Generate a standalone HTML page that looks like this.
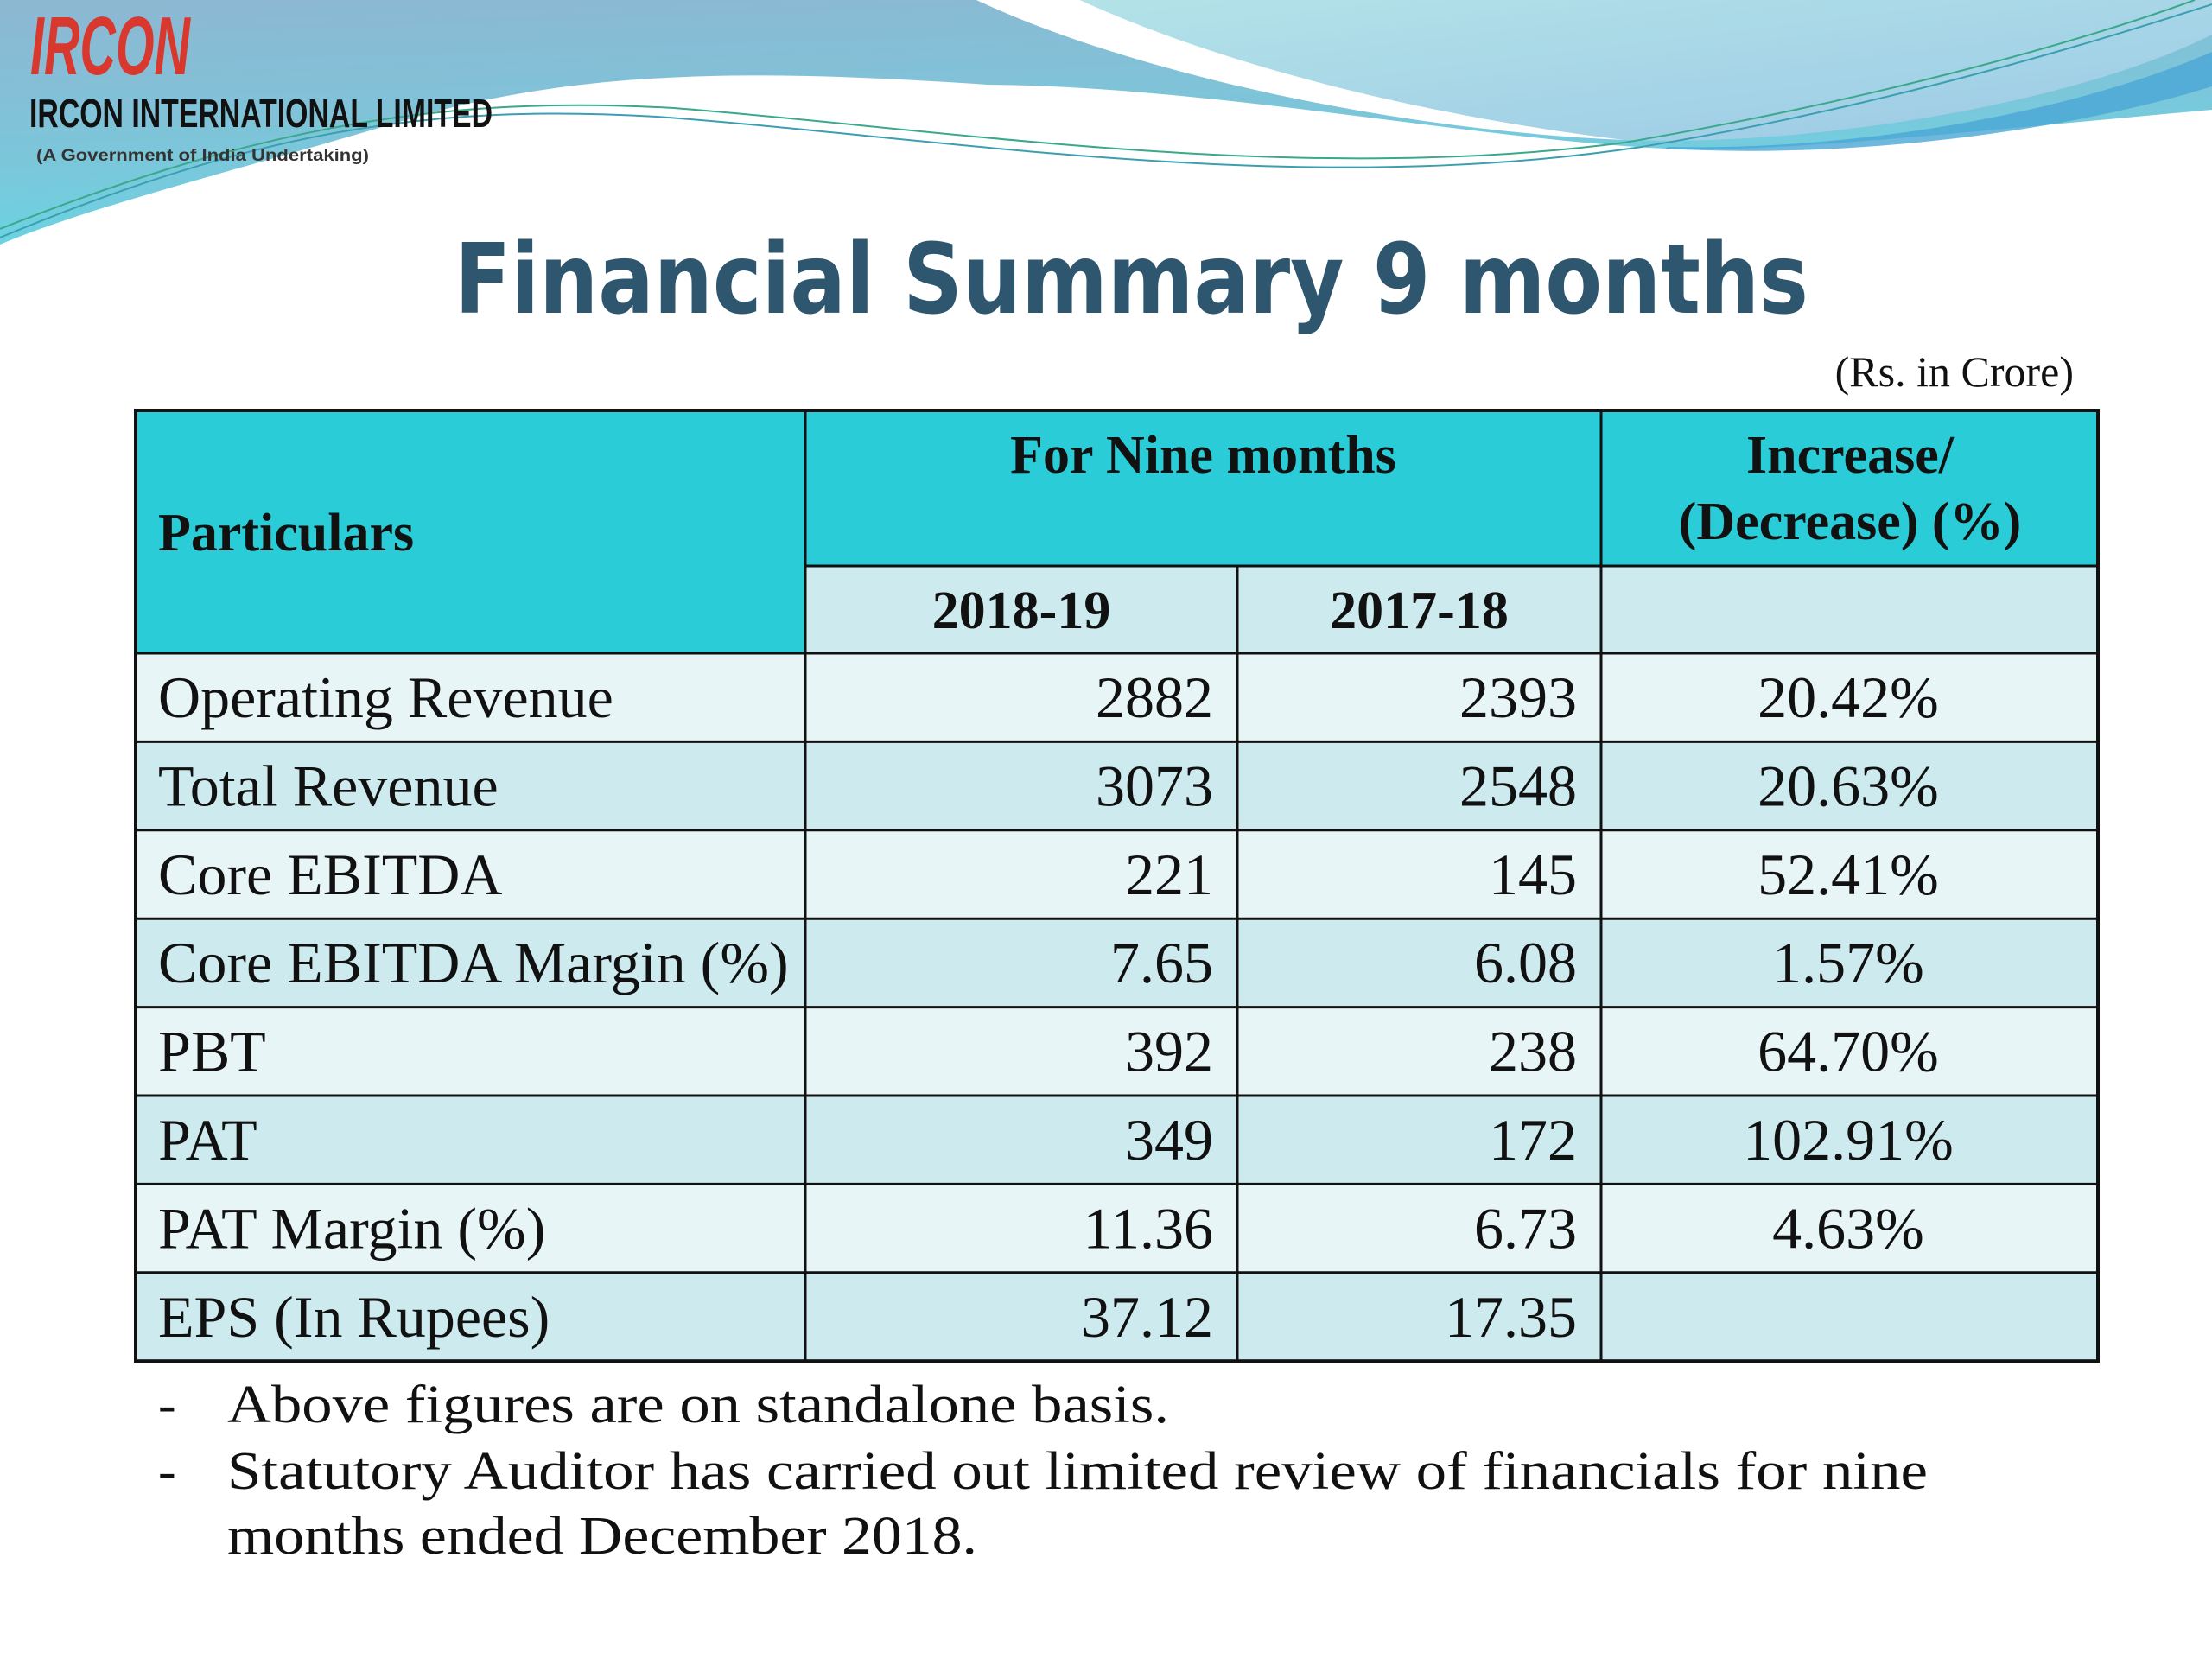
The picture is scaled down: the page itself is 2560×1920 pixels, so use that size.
<!DOCTYPE html>
<html><head><meta charset="utf-8"><title>Financial Summary 9 months</title>
<style>
html,body{margin:0;padding:0;background:#fff;}
body{width:2560px;height:1920px;overflow:hidden;position:relative;}
svg{position:absolute;left:0;top:0;}
</style></head>
<body>
<svg id="s" width="2560" height="1920" viewBox="0 0 2560 1920" xmlns="http://www.w3.org/2000/svg">
<defs>
<linearGradient id="gBlue" x1="0" y1="0" x2="0.3" y2="1">
<stop offset="0" stop-color="#8db7d2"/><stop offset="0.6" stop-color="#7cc6da"/><stop offset="1" stop-color="#66d6e3"/>
</linearGradient>
<linearGradient id="gRight" x1="0" y1="0" x2="1" y2="1">
<stop offset="0" stop-color="#b3e3e8"/><stop offset="1" stop-color="#9cc9e6"/>
</linearGradient>
</defs>
<g>
<path d="M0,0 H2560 V127 C2300,150 2050,178 1927,172 C1700,160 1400,100 1143,98 C900,82 700,78 500,130 C300,190 100,240 0,283 Z" fill="url(#gBlue)"/>
<path d="M1250,0 H2560 V40 C2400,120 2100,170 1880,162 C1600,130 1380,60 1250,0 Z" fill="url(#gRight)"/>
<path d="M1130,0 C1300,80 1600,150 1880,162 C1600,128 1380,60 1250,0 Z" fill="#ffffff"/>
<path d="M2560,60 C2400,130 2150,175 1930,170 L1927,172 C2150,185 2400,150 2560,100 Z" fill="#4aa6d6" opacity="0.8"/>
<path d="M0,275 C300,150 500,120 760,135 C1100,160 1500,230 1900,170 C2200,120 2450,40 2560,5" fill="none" stroke="#3a9fb0" stroke-width="2"/>
<path d="M0,265 C300,145 520,110 780,125 C1100,150 1500,215 1880,165 C2200,110 2430,40 2540,0" fill="none" stroke="#3aa88a" stroke-width="2"/>
</g>
<g>
<text x="35" y="86" font-family="Liberation Sans Narrow, Liberation Sans, sans-serif" font-weight="bold" font-style="italic" font-size="96" fill="#d9382e" textLength="185" lengthAdjust="spacingAndGlyphs">IRCON</text>
<text x="34" y="147" font-family="Liberation Sans Narrow, Liberation Sans, sans-serif" font-weight="bold" font-size="46" fill="#111" textLength="536" lengthAdjust="spacingAndGlyphs">IRCON INTERNATIONAL LIMITED</text>
<text x="42" y="186" font-family="Liberation Sans, sans-serif" font-weight="bold" font-size="19" fill="#333" textLength="385" lengthAdjust="spacingAndGlyphs">(A Government of India Undertaking)</text>
</g>
<text x="526" y="362" font-family="DejaVu Sans, Liberation Sans, sans-serif" font-weight="bold" font-size="112" fill="#2f566f" textLength="1567" lengthAdjust="spacingAndGlyphs">Financial Summary 9 months</text>
<text x="2400" y="447" text-anchor="end" font-family="Liberation Serif, serif" font-size="50" fill="#111">(Rs. in Crore)</text>
<g id="tbl"></g>
<g>
<text x="183" y="1646" font-family="Liberation Serif, serif" font-size="62" fill="#111">-</text>
<text x="263" y="1646" font-family="Liberation Serif, serif" font-size="62" fill="#111" textLength="1090" lengthAdjust="spacingAndGlyphs">Above figures are on standalone basis.</text>
<text x="183" y="1723" font-family="Liberation Serif, serif" font-size="62" fill="#111">-</text>
<text x="263" y="1723" font-family="Liberation Serif, serif" font-size="62" fill="#111" textLength="1968" lengthAdjust="spacingAndGlyphs">Statutory Auditor has carried out limited review of financials for nine</text>
<text x="263" y="1798" font-family="Liberation Serif, serif" font-size="62" fill="#111" textLength="868" lengthAdjust="spacingAndGlyphs">months ended December 2018.</text>
</g>
</svg>
<script>
const particulars = ["Operating Revenue","Total Revenue","Core EBITDA","Core EBITDA Margin (%)","PBT","PAT","PAT Margin (%)","EPS (In Rupees)"];
const fy2019 = ["2882","3073","221","7.65","392","349","11.36","37.12"];
const fy2018 = ["2393","2548","145","6.08","238","172","6.73","17.35"];
const change = ["20.42%","20.63%","52.41%","1.57%","64.70%","102.91%","4.63%",""];

const NS = "http://www.w3.org/2000/svg";
const g = document.getElementById('tbl');
const X0 = 157, X1 = 932, X2 = 1432, X3 = 1853, X4 = 2428;
const T = 475, SUB = 655, HB = 756, RH = 102.4;
function mk(tag, attrs, parent){ const e = document.createElementNS(NS, tag); for (const k in attrs) e.setAttribute(k, attrs[k]); (parent||g).appendChild(e); return e; }
function txt(x, y, s, anchor, bold, size){ const t = mk('text', {x:x, y:y, 'text-anchor':anchor, 'font-family':'Liberation Serif, serif', 'font-size':size, 'font-weight':bold?'bold':'normal', fill:'#111'}); t.textContent = s; return t; }

let r = mk('rect', {x:X0, y:T, width:X1-X0, height:HB-T, fill:'#29ccd7'});


r = mk('rect', {x:X1, y:T, width:X4-X1, height:SUB-T, fill:'#29ccd7'});


r = mk('rect', {x:X1, y:SUB, width:X4-X1, height:HB-SUB, fill:'#cdebef'});


let t = txt(183, 637, 'Particulars', 'start', true, 62);


t = txt((X1+X3)/2, 547, 'For Nine months', 'middle', true, 62);


t = txt(2141, 547, 'Increase/', 'middle', true, 62);


t = txt(2141, 624, '(Decrease) (%)', 'middle', true, 62);


t = txt((X1+X2)/2, 727, '2018-19', 'middle', true, 62);


t = txt((X2+X3)/2, 727, '2017-18', 'middle', true, 62);



particulars.forEach((p, i) => {
  const y = HB + RH*i;
  const row = mk('g', {});
  
  
  mk('rect', {x:X0, y:y, width:X4-X0, height:RH, fill: i%2===0 ? '#e7f5f7' : '#cdebef'}, row);
  const by = y + 74;
  let a = txt(183, by, p, 'start', false, 68); row.appendChild(a);
  
  
  let b = txt(X2-28, by, fy2019[i], 'end', false, 68); row.appendChild(b);
  
  
  let c = txt(X3-28, by, fy2018[i], 'end', false, 68); row.appendChild(c);
  
  
  let d = txt(2139, by, change[i], 'middle', false, 68); row.appendChild(d);
  
  
});

const BOT = HB + RH*particulars.length;
const lines = mk('g', {stroke:'#111', 'stroke-width':3, fill:'none'});


mk('rect', {x:X0, y:T, width:X4-X0, height:BOT-T, 'stroke-width':4}, lines);
mk('line', {x1:X1, y1:T, x2:X1, y2:BOT}, lines);
mk('line', {x1:X2, y1:SUB, x2:X2, y2:BOT}, lines);
mk('line', {x1:X3, y1:T, x2:X3, y2:BOT}, lines);
mk('line', {x1:X1, y1:SUB, x2:X4, y2:SUB}, lines);
for (let i = 0; i < particulars.length; i++) {
  const y = HB + RH*i;
  mk('line', {x1:X0, y1:y, x2:X4, y2:y}, lines);
}
</script>
</body></html>
